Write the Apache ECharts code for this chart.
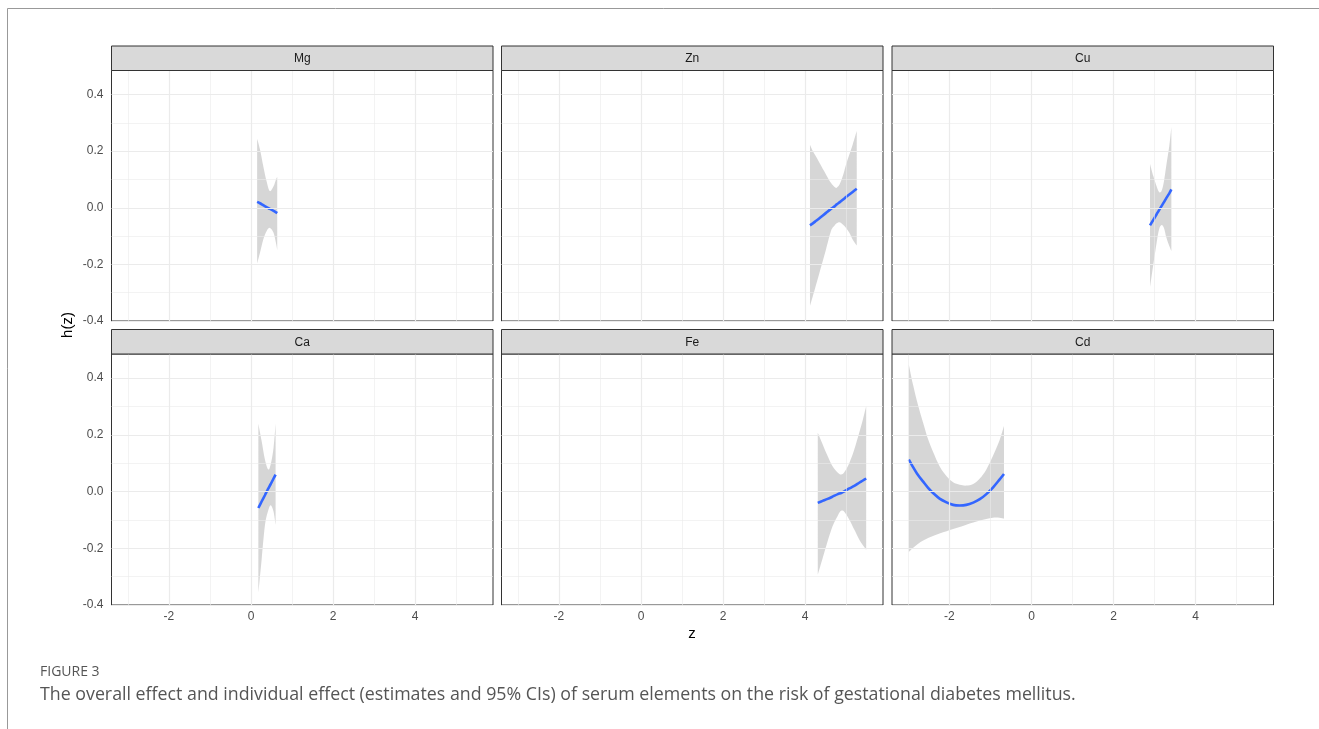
<!DOCTYPE html>
<html><head><meta charset="utf-8">
<script src="https://cdn.jsdelivr.net/npm/echarts@6/dist/echarts.min.js"></script>
<style>html,body{margin:0;padding:0;background:#fff}#c{width:1319px;height:729px}</style>
</head><body><div id="c"></div>
<script>
// ---------- data ----------
const panelNames = ['Mg', 'Zn', 'Cu', 'Ca', 'Fe', 'Cd'];
const xTicks = [-2, 0, 2, 4];
const xMinor = [-3, -1, 1, 3, 5];
const yTicks = [-0.4, -0.2, 0, 0.2, 0.4];
const yMinor = [-0.3, -0.1, 0.1, 0.3];

const mgZ   = [0.15, 0.22, 0.30, 0.38, 0.46, 0.55, 0.61, 0.64];
const mgEst = [0.021, 0.016, 0.009, 0.002, -0.004, -0.011, -0.016, -0.019];
const mgUp  = [0.244, 0.206, 0.147, 0.094, 0.059, 0.076, 0.100, 0.109];
const mgLo  = [-0.197, -0.159, -0.112, -0.083, -0.071, -0.088, -0.124, -0.150];

const znZ   = [4.12, 4.19, 4.27, 4.35, 4.51, 4.63, 4.72, 4.77, 4.84, 4.92, 5.00, 5.08, 5.16, 5.26];
const znEst = [-0.062, -0.055, -0.046, -0.037, -0.018, -0.004, 0.005, 0.012, 0.019, 0.028, 0.038, 0.047, 0.056, 0.067];
const znUp  = [0.223, 0.200, 0.180, 0.159, 0.118, 0.088, 0.073, 0.071, 0.082, 0.112, 0.153, 0.188, 0.223, 0.271];
const znLo  = [-0.347, -0.312, -0.271, -0.230, -0.147, -0.083, -0.063, -0.055, -0.051, -0.059, -0.071, -0.088, -0.112, -0.133];

const cuZ   = [2.89, 2.97, 3.05, 3.11, 3.17, 3.23, 3.29, 3.36, 3.41];
const cuEst = [-0.062, -0.043, -0.023, -0.008, 0.006, 0.020, 0.035, 0.051, 0.065];
const cuUp  = [0.155, 0.112, 0.076, 0.056, 0.059, 0.094, 0.153, 0.218, 0.285];
const cuLo  = [-0.280, -0.200, -0.124, -0.077, -0.061, -0.071, -0.106, -0.135, -0.153];

const caZ   = [0.18, 0.26, 0.34, 0.42, 0.48, 0.55, 0.60];
const caEst = [-0.058, -0.035, -0.013, 0.010, 0.026, 0.046, 0.060];
const caUp  = [0.239, 0.178, 0.113, 0.078, 0.095, 0.154, 0.240];
const caLo  = [-0.358, -0.240, -0.120, -0.067, -0.048, -0.070, -0.117];

const feZ   = [4.31, 4.43, 4.55, 4.67, 4.80, 4.88, 4.96, 5.08, 5.20, 5.32, 5.41, 5.49];
const feEst = [-0.040, -0.033, -0.026, -0.018, -0.009, -0.005, 0.001, 0.011, 0.020, 0.031, 0.039, 0.046];
const feUp  = [0.207, 0.166, 0.125, 0.089, 0.066, 0.060, 0.069, 0.101, 0.148, 0.207, 0.254, 0.301];
const feLo  = [-0.293, -0.234, -0.175, -0.122, -0.084, -0.068, -0.072, -0.099, -0.134, -0.169, -0.189, -0.205];

const cdZ   = [-2.99, -2.89, -2.77, -2.64, -2.52, -2.40, -2.24, -2.07, -1.91, -1.75, -1.59, -1.42, -1.26, -1.10, -0.94, -0.78, -0.67];
const cdEst = [0.113, 0.087, 0.059, 0.035, 0.013, -0.005, -0.025, -0.038, -0.047, -0.049, -0.047, -0.039, -0.027, -0.009, 0.014, 0.042, 0.062];
const cdUp  = [0.448, 0.378, 0.307, 0.242, 0.184, 0.140, 0.089, 0.054, 0.033, 0.024, 0.021, 0.027, 0.046, 0.078, 0.125, 0.180, 0.231];
const cdLo  = [-0.213, -0.199, -0.185, -0.173, -0.164, -0.157, -0.148, -0.140, -0.132, -0.125, -0.117, -0.109, -0.102, -0.097, -0.092, -0.092, -0.095];

const zs   = [mgZ, znZ, cuZ, caZ, feZ, cdZ];
const ests = [mgEst, znEst, cuEst, caEst, feEst, cdEst];
const ups  = [mgUp, znUp, cuUp, caUp, feUp, cdUp];
const los  = [mgLo, znLo, cuLo, caLo, feLo, cdLo];

// ---------- layout ----------
const FONT = 'Liberation Sans, Arial, sans-serif';
const colLeft = [111.5, 501.5, 892];
const panelW = 381.5;
const rowTop = [70.5, 354];
const rowH = [250.5, 251];
const stripH = 24.5;
const X_MIN = -3.4, X_MAX = 5.9, Y_MIN = -0.4, Y_MAX = 0.485;

// smooth (Catmull-Rom) path through pixel points
function crPath(pts, startCmd) {
  let d = startCmd + pts[0][0] + ' ' + pts[0][1];
  for (let i = 0; i < pts.length - 1; i++) {
    const p0 = pts[Math.max(i - 1, 0)], p1 = pts[i], p2 = pts[i + 1], p3 = pts[Math.min(i + 2, pts.length - 1)];
    const c1 = [p1[0] + (p2[0] - p0[0]) / 6, p1[1] + (p2[1] - p0[1]) / 6];
    const c2 = [p2[0] - (p3[0] - p1[0]) / 6, p2[1] - (p3[1] - p1[1]) / 6];
    d += ' C' + c1[0] + ' ' + c1[1] + ' ' + c2[0] + ' ' + c2[1] + ' ' + p2[0] + ' ' + p2[1];
  }
  return d;
}

const grids = [], xAxes = [], yAxes = [], series = [], graphics = [];

for (let i = 0; i < 6; i++) {
  const col = i % 3, row = Math.floor(i / 3);
  const left = colLeft[col], top = rowTop[row], h = rowH[row];
  grids.push({left: left, top: top, width: panelW, height: h, show: true,
    borderColor: '#333', borderWidth: 1, backgroundColor: 'transparent', containLabel: false});
  const showX = row === 1, showY = col === 0;
  xAxes.push({type: 'value', gridIndex: i, min: X_MIN, max: X_MAX,
    axisLine: {show: false}, splitLine: {show: false},
    axisTick: {show: showX, customValues: xTicks, length: 4, lineStyle: {color: '#333', width: 1}},
    axisLabel: {show: showX, customValues: xTicks, margin: 6, color: '#4D4D4D', fontSize: 12, fontFamily: FONT,
      formatter: v => String(v)}});
  yAxes.push({type: 'value', gridIndex: i, min: Y_MIN, max: Y_MAX,
    axisLine: {show: false}, splitLine: {show: false},
    axisTick: {show: showY, customValues: yTicks, length: 4, lineStyle: {color: '#333', width: 1}},
    axisLabel: {show: showY, customValues: yTicks, margin: 8, color: '#4D4D4D', fontSize: 12, fontFamily: FONT,
      formatter: v => v.toFixed(1)}});

  const gl = [];
  xMinor.forEach(v => gl.push({xAxis: v, lineStyle: {color: '#EBEBEB', width: 0.6, type: 'solid'}}));
  yMinor.forEach(v => gl.push({yAxis: v, lineStyle: {color: '#EBEBEB', width: 0.6, type: 'solid'}}));
  xTicks.forEach(v => gl.push({xAxis: v, lineStyle: {color: '#EBEBEB', width: 1.2, type: 'solid'}}));
  yTicks.forEach(v => gl.push({yAxis: v, lineStyle: {color: '#EBEBEB', width: 1.2, type: 'solid'}}));

  const z = zs[i], est = ests[i], up = ups[i], lo = los[i];
  // gridlines carrier
  series.push({type: 'line', xAxisIndex: i, yAxisIndex: i, z: 1, silent: true, animation: false,
    showSymbol: false, lineStyle: {opacity: 0}, data: z.map((v, k) => [v, est[k]]),
    markLine: {silent: true, animation: false, symbol: ['none', 'none'], label: {show: false},
      emphasis: {disabled: true}, data: gl}});
  // confidence band
  series.push({type: 'custom', xAxisIndex: i, yAxisIndex: i, z: 2, silent: true, animation: false,
    data: z.map((v, k) => [v, lo[k], up[k]]),
    encode: {x: 0, y: [1, 2]},
    renderItem: (params, api) => {
      if (params.dataIndex !== 0) return null;
      const upPts = z.map((v, k) => api.coord([v, up[k]]));
      const loPts = z.map((v, k) => api.coord([v, lo[k]])).reverse();
      const d = crPath(upPts, 'M') + ' L' + loPts[0][0] + ' ' + loPts[0][1] + crPath(loPts, ' L').replace(/^ L[^C]*/, '') + ' Z';
      return {type: 'path', shape: {pathData: d}, style: {fill: 'rgba(153,153,153,0.4)', stroke: null}};
    }});
  // estimate line
  series.push({type: 'line', xAxisIndex: i, yAxisIndex: i, z: 3, silent: true, animation: false,
    showSymbol: false, smooth: 0.3, data: z.map((v, k) => [v, est[k]]),
    lineStyle: {color: '#3366FF', width: 2.6, cap: 'butt'}});

  // strip
  const sTop = top - stripH;
  graphics.push({type: 'rect', shape: {x: left, y: sTop, width: panelW, height: stripH},
    style: {fill: '#D9D9D9', stroke: '#333', lineWidth: 1}, silent: true, z: 10});
  graphics.push({type: 'text', x: left + panelW / 2, y: sTop + stripH / 2 + 0.5,
    style: {text: panelNames[i], fill: '#1A1A1A', fontSize: 12, fontFamily: FONT, align: 'center', verticalAlign: 'middle'},
    silent: true, z: 11});
}

// axis titles
graphics.push({type: 'text', x: 68, y: 325, rotation: Math.PI / 2,
  style: {text: 'h(z)', fill: '#000', fontSize: 15, fontFamily: FONT, align: 'center', verticalAlign: 'middle'}, silent: true});
graphics.push({type: 'text', x: 692, y: 634,
  style: {text: 'z', fill: '#000', fontSize: 15, fontFamily: FONT, align: 'center', verticalAlign: 'middle'}, silent: true});
// caption
graphics.push({type: 'text', x: 40, y: 672,
  style: {text: 'FIGURE 3', fill: '#555', fontSize: 14, fontFamily: 'Open Sans, sans-serif', align: 'left', verticalAlign: 'middle'}, silent: true});
graphics.push({type: 'text', x: 40, y: 695,
  style: {text: 'The overall effect and individual effect (estimates and 95% CIs) of serum elements on the risk of gestational diabetes mellitus.',
    fill: '#555', fontSize: 17.8, fontFamily: 'Open Sans, sans-serif', align: 'left', verticalAlign: 'middle'}, silent: true});
// page frame
graphics.push({type: 'line', shape: {x1: 7.5, y1: 8.5, x2: 1319, y2: 8.5}, style: {stroke: '#999', lineWidth: 1}, silent: true});
graphics.push({type: 'line', shape: {x1: 7.5, y1: 8.5, x2: 7.5, y2: 729}, style: {stroke: '#999', lineWidth: 1}, silent: true});

const chart = echarts.init(document.getElementById('c'), null, {renderer: 'canvas'});
chart.setOption({
  animation: false,
  backgroundColor: '#fff',
  grid: grids, xAxis: xAxes, yAxis: yAxes, series: series, graphic: graphics
});
</script></body></html>
